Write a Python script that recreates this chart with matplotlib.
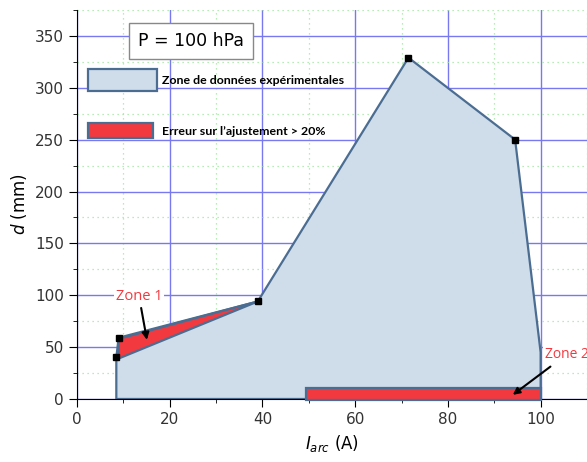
import numpy as np
import matplotlib.pyplot as plt
from matplotlib.patches import Polygon, Rectangle
from matplotlib.ticker import MultipleLocator

# Zone de données expérimentales (contour)
zone_x = [8.5, 8.5, 9.0, 39.0, 71.5, 94.5, 100.0, 100.0]
zone_y = [0, 40, 59, 94, 329, 250, 45, 0]
# Points mesurés
pts_x = [8.5, 9.0, 39.0, 71.5, 94.5]
pts_y = [40, 59, 94, 329, 250]
# Zone 1 : erreur > 20 %
z1_x = [9.0, 39.0, 9.0]
z1_y = [58, 94, 39]
# Zone 2 : erreur > 20 %
z2_x = [49.5, 100.0]
z2_y = [-1, 11]

fill_c = '#cfdcea'
edge_c = '#4b6d92'
red_c = '#f2393f'

fig = plt.figure(figsize=(5.87, 4.62), dpi=100)
ax = fig.add_axes([0.131, 0.1364, 0.869, 0.842])
ax.set_xlim(0, 110)
ax.set_ylim(0, 375)

ax.xaxis.set_major_locator(MultipleLocator(20))
ax.xaxis.set_minor_locator(MultipleLocator(10))
ax.yaxis.set_major_locator(MultipleLocator(50))
ax.yaxis.set_minor_locator(MultipleLocator(25))
ax.grid(which='major', color='#7878f0', linewidth=1.0)
ax.grid(which='minor', color='#a0e6a0', linestyle=(0, (1, 3)), linewidth=0.9)
ax.set_axisbelow(True)

ax.add_patch(Polygon(list(zip(zone_x, zone_y)), closed=True, facecolor=fill_c,
                     edgecolor=edge_c, linewidth=1.6, zorder=2))
ax.add_patch(Polygon(list(zip(z1_x, z1_y)), closed=True, facecolor=red_c,
                     edgecolor=edge_c, linewidth=1.6, zorder=3))
ax.add_patch(Rectangle((z2_x[0], z2_y[0]), z2_x[1] - z2_x[0], z2_y[1] - z2_y[0],
                       facecolor=red_c, edgecolor=edge_c, linewidth=1.6, zorder=3,
                       clip_on=False))
ax.plot(pts_x, pts_y, 's', color='black', markersize=4.5, zorder=4)

# légende dessinée à la main (positions en pixels de l'image)
W, H = 587, 462
ax_l, ax_b, ax_w, ax_h = 77, 462 - 399, 510, 389
def fx(px): return (px - ax_l) / ax_w
def fy(py): return (H - py - ax_b) / ax_h

ax.add_patch(Rectangle((fx(88), fy(91)), fx(157) - fx(88), fy(69) - fy(91),
                       transform=ax.transAxes, facecolor=fill_c, edgecolor=edge_c,
                       linewidth=1.6, zorder=5))
ax.text(fx(162), fy(81), 'Zone de données expérimentales', transform=ax.transAxes,
        fontsize=8.9, fontweight='bold', va='center', family='Lato', zorder=5)
ax.add_patch(Rectangle((fx(88), fy(138)), fx(153) - fx(88), fy(123) - fy(138),
                       transform=ax.transAxes, facecolor=red_c, edgecolor=edge_c,
                       linewidth=1.6, zorder=5))
ax.text(fx(162), fy(132), 'Erreur sur l’ajustement > 20%', transform=ax.transAxes,
        fontsize=8.9, fontweight='bold', va='center', family='Lato', zorder=5)

ax.text(24.6, 345, 'P = 100 hPa', fontsize=12.5, ha='center', va='center', zorder=5,
        bbox=dict(boxstyle='square,pad=0.5', facecolor='white', edgecolor='#888888'))

ax.annotate('Zone 1', xy=(15.1, 57), xytext=(13.4, 99), color=red_c, fontsize=10.5,
            ha='center', va='center', family='Open Sans',
            bbox=dict(facecolor='white', edgecolor='none', pad=1),
            arrowprops=dict(arrowstyle='-|>', color='black', lw=1.5,
                            shrinkA=2, shrinkB=0), zorder=6)
ax.annotate('Zone 2', xy=(94, 4), xytext=(100.9, 43), color=red_c, fontsize=10,
            ha='left', va='center', family='Open Sans',
            bbox=dict(facecolor='white', edgecolor='none', pad=1),
            arrowprops=dict(arrowstyle='-|>', color='black', lw=1.5,
                            shrinkA=4, shrinkB=0), zorder=6, annotation_clip=False)

for s in ['top', 'right']:
    ax.spines[s].set_visible(False)
ax.tick_params(which='both', direction='out', labelsize=11, labelcolor='#333333')
ax.tick_params(which='major', length=6)
ax.tick_params(which='minor', length=3)
ax.set_xticks([0, 20, 40, 60, 80, 100])

ax.set_xlabel(r'$I_{arc}$ (A)', fontsize=12)
ax.set_ylabel(r'$d$ (mm)', fontsize=12)

plt.savefig('out.png', dpi=100)
